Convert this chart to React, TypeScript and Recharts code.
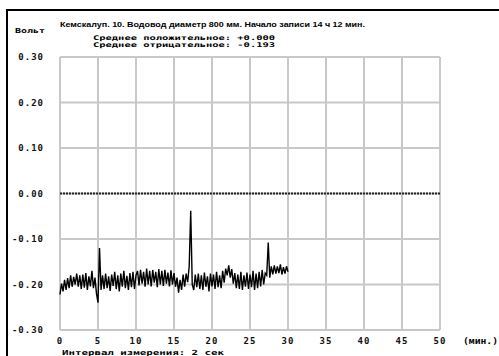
import { LineChart, Line, XAxis, YAxis, CartesianGrid, ReferenceLine } from 'recharts';

// sampling step of the plotted trace, minutes
const STEP = 0.2;

const VOLTS = [
  -0.222, -0.198, -0.215, -0.19, -0.212, -0.186, -0.208, -0.18, -0.205, -0.183, -0.2,
  -0.176, -0.205, -0.18, -0.21, -0.178, -0.207, -0.175, -0.212, -0.182, -0.204, -0.17, -0.208, -0.185, -0.22,
  -0.24, -0.12, -0.212, -0.18, -0.21,
  -0.176, -0.208, -0.182, -0.214, -0.178, -0.203, -0.172, -0.21, -0.18, -0.215,
  -0.176, -0.205, -0.17, -0.208, -0.181, -0.212, -0.175, -0.206, -0.172, -0.21, -0.18,
  -0.17, -0.202, -0.168, -0.198, -0.172, -0.205, -0.165, -0.2, -0.17, -0.204,
  -0.168, -0.196, -0.172, -0.206, -0.166, -0.2, -0.17, -0.203, -0.168, -0.198,
  -0.174, -0.204, -0.169, -0.2, -0.175,
  -0.205, -0.185, -0.218, -0.19, -0.212, -0.178, -0.205, -0.176, -0.195, -0.16,
  -0.038, -0.2, -0.212, -0.178,
  -0.206, -0.176, -0.21, -0.18, -0.212, -0.174, -0.205, -0.182, -0.215, -0.176,
  -0.204, -0.178, -0.21, -0.172, -0.206, -0.18, -0.208, -0.17, -0.196, -0.165, -0.18,
  -0.158, -0.185, -0.166, -0.198, -0.175, -0.208, -0.178, -0.21, -0.172, -0.212,
  -0.18, -0.205, -0.174, -0.21, -0.178, -0.206, -0.17, -0.212, -0.176, -0.208,
  -0.172, -0.204, -0.168, -0.2, -0.175, -0.18,
  -0.108, -0.185,
  -0.16, -0.178, -0.158, -0.176, -0.16, -0.175, -0.156, -0.178, -0.162, -0.176, -0.16, -0.172,
];

const X_TICKS = [0, 5, 10, 15, 20, 25, 30, 35, 40, 45, 50];
const Y_TICKS = [-0.3, -0.2, -0.1, 0, 0.1, 0.2, 0.3];

const TITLE = 'Кемскалуп. 10.  Водовод диаметр 800 мм.   Начало записи 14 ч 12 мин.';
const MEAN_POS = 'Среднее положительное: +0.000';
const MEAN_NEG = 'Среднее отрицательное: -0.193';
const Y_UNIT = 'Вольт';
const X_UNIT = '(мин.)';
const FOOTER = 'Интервал измерения: 2 сек';

const data = VOLTS.map((v, i) => ({ t: +(i * STEP).toFixed(1), v }));

const MONO = '"DejaVu Sans Mono", monospace';
const tickStyle = { fontFamily: MONO, fontSize: 9, fontWeight: 700, fill: '#111', letterSpacing: 1 };

const App = () => {
  return (
    <div style={{ position: 'absolute', left: 0, top: 0, width: 499, height: 356, background: '#fff', overflow: 'hidden' }}>
      <div style={{ position: 'absolute', left: 6, top: 9, width: 500, height: 360, borderLeft: '2px solid #000', borderTop: '2px solid #000' }} />
      <LineChart
        width={499}
        height={356}
        data={data}
        margin={{ top: 57, right: 59, bottom: 6, left: 8 }}
        style={{ position: 'absolute', left: 0, top: 0 }}
      >
        <CartesianGrid stroke="#c8c8c8" strokeWidth={2} />
        <XAxis
          dataKey="t"
          type="number"
          domain={[0, 50]}
          ticks={X_TICKS}
          axisLine={false}
          tickLine={false}
          height={20}
          tick={tickStyle}
          interval={0}
        />
        <YAxis
          type="number"
          domain={[-0.3, 0.3]}
          ticks={Y_TICKS}
          axisLine={false}
          tickLine={false}
          width={52}
          tickMargin={10}
          tick={tickStyle}
          tickFormatter={(v: number) => v.toFixed(2)}
          interval={0}
        />
        <ReferenceLine y={0} stroke="#222" strokeWidth={2} strokeDasharray="2 1" />
        <Line
          type="linear"
          dataKey="v"
          stroke="#000"
          strokeWidth={1.4}
          dot={false}
          isAnimationActive={false}
        />
      </LineChart>
      <svg width={499} height={356} style={{ position: 'absolute', left: 0, top: 0, pointerEvents: 'none' }}>
        <g fontWeight={700} fill="#000">
          <text x={60} y={27} fontFamily='"Liberation Sans", Arial, sans-serif' fontSize={8} textLength={305} lengthAdjust="spacingAndGlyphs">{TITLE}</text>
          <text x={15} y={33} fontFamily={MONO} fontSize={7} textLength={30} lengthAdjust="spacingAndGlyphs">{Y_UNIT}</text>
          <text x={93} y={40} fontFamily={MONO} fontSize={6.5} textLength={182} lengthAdjust="spacingAndGlyphs">{MEAN_POS}</text>
          <text x={93} y={47} fontFamily={MONO} fontSize={6.5} textLength={182} lengthAdjust="spacingAndGlyphs">{MEAN_NEG}</text>
          <text x={463} y={344} fontFamily={MONO} fontSize={8} textLength={35} lengthAdjust="spacingAndGlyphs">{X_UNIT}</text>
          <text x={62} y={355} fontFamily={MONO} fontSize={7} textLength={162} lengthAdjust="spacingAndGlyphs">{FOOTER}</text>
        </g>
      </svg>
    </div>
  );
};

export default App;
